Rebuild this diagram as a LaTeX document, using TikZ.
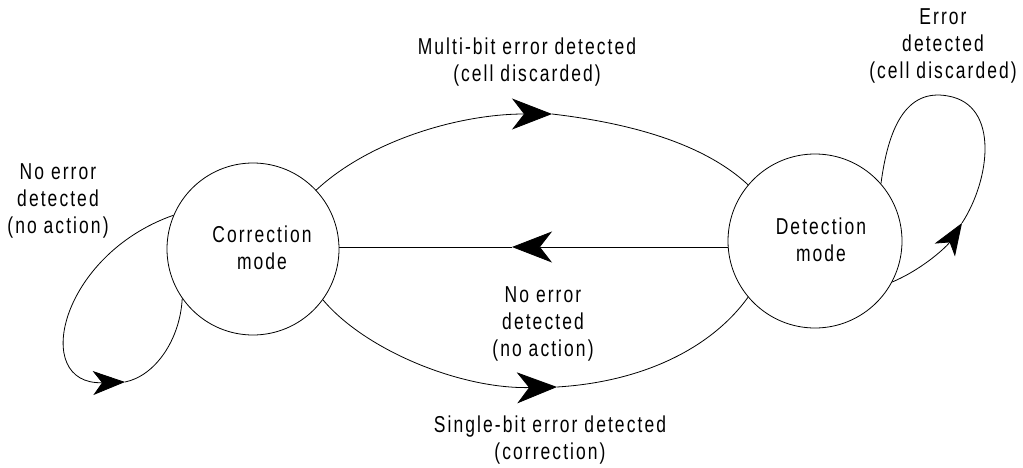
\documentclass[tikz,border=0pt]{standalone}
\usepackage{fontspec}
\setmainfont{Liberation Sans}[FakeStretch=0.76, LetterSpace=9]
\usetikzlibrary{arrows.meta}
\begin{document}
\begin{tikzpicture}[x=1pt,y=-1pt,
  state/.style={draw, circle, line width=0.8pt, inner sep=0pt},
  lbl/.style={align=center, font=\fontsize{23}{27}\selectfont, inner sep=0pt},
  conn/.style={line width=0.8pt},
  bigtip/.style={-{Stealth[length=40pt,width=31pt,inset=12pt]}},
  smalltip/.style={-{Stealth[length=32pt,width=24pt,inset=9pt]}},
]
\useasboundingbox (0,0) rectangle (1023,468);
\node[state, minimum size=172pt] (corr) at (253,249) {};
\node[state, minimum size=174pt] (det) at (815,241) {};
\node[lbl] (corrtxt) at (262,247.5) {Correction\\mode};
\node[lbl] (dettxt) at (821,240) {Detection\\mode};

\coordinate (tipT) at (552,114);
\coordinate (tipM) at (512,247);
\coordinate (tipB) at (557,387);
\coordinate (tipL) at (125,382);
\coordinate (tipR) at (962,223);
\coordinate (topR) at (948,96);

% top: multi-bit error
\draw[conn,bigtip] (corr.43) .. controls (370,140) and (460,114) .. (tipT);
\draw[conn] (tipT) .. controls (620,122) and (700,140) .. (det.140);
% middle: no error
\draw[conn,bigtip] (tipM -| det.west) -- (tipM);
\draw[conn] (tipM) -- (tipM -| corr.east);
% bottom: single-bit error
\draw[conn,bigtip] (corr.-36.5) .. controls (365,350) and (460,389) .. (tipB);
\draw[conn] (tipB) .. controls (640,382) and (710,350) .. (det.220);
% left loop
\draw[conn,smalltip] (corr.157) .. controls (60,255) and (30,385) .. (tipL);
\draw[conn] (tipL) .. controls (155,376) and (180,340) .. (corr.215.7);
% right loop
\draw[conn,smalltip] (det.-28) .. controls (925,268) and (948,245) .. (tipR);
\draw[conn] (tipR) .. controls (990,180) and (1000,105) .. (topR) .. controls (905,88) and (888,130) .. (det.41);

\node[lbl] (lblMulti) at (527,62.5) {Multi-bit error detected\\(cell discarded)};
\node[lbl] (lblErr) at (943,46) {Error\\detected\\(cell discarded)};
\node[lbl] (lblNoL) at (58,201) {No error\\detected\\(no action)};
\node[lbl] (lblNoM) at (543,324) {No error\\detected\\(no action)};
\node[lbl] (lblSingle) at (550,440) {Single-bit error detected\\(correction)};
\end{tikzpicture}
\end{document}
